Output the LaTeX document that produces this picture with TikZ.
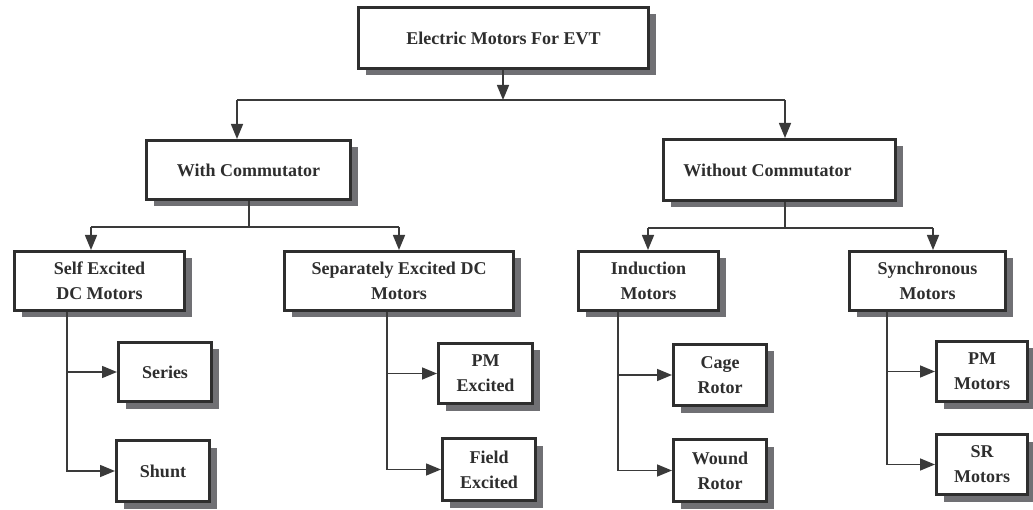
\documentclass[tikz,border=0pt]{standalone}
\usepackage{fontspec}
\setmainfont{Liberation Serif}
\usetikzlibrary{arrows.meta,shadows}
\definecolor{inkc}{HTML}{2E2E2E}
\definecolor{linec}{HTML}{3A3A3A}
\definecolor{shadc}{HTML}{707074}
\begin{document}
\begin{tikzpicture}[x=1pt,y=-1pt,
  box/.style={draw=inkc, line width=3pt, fill=white, rectangle, inner sep=0pt,
    text=inkc, font=\fontsize{18}{25}\selectfont\bfseries, align=center,
    drop shadow={shadow xshift=7pt, shadow yshift=-7pt, opacity=1, fill=shadc, draw=none}},
  conn/.style={draw=linec, line width=1.5pt},
  arr/.style={conn, -{Triangle[length=15pt,width=12pt]}}
]
\useasboundingbox (0,0) rectangle (1033,510);

% level 1
\node[box, minimum width=290pt, minimum height=61pt] (top) at (503.5,38) {Electric Motors For EVT};

% level 2
\node[box, minimum width=204pt, minimum height=59pt] (wc) at (248.5,170) {With Commutator};
\node[box, minimum width=232pt, minimum height=61pt,
  label={[text=inkc, font=\fontsize{18}{25}\selectfont\bfseries, xshift=-12pt]center:Without Commutator}] (woc) at (779.5,170) {};

% level 3
\node[box, minimum width=170pt, minimum height=59pt] (se) at (99.5,281) {Self Excited\\DC Motors};
\node[box, minimum width=229pt, minimum height=59pt] (sep) at (399,281) {Separately Excited DC\\Motors};
\node[box, minimum width=140pt, minimum height=59pt] (ind) at (648.5,281) {Induction\\Motors};
\node[box, minimum width=156pt, minimum height=59pt] (syn) at (927.5,281) {Synchronous\\Motors};

% level 4
\node[box, minimum width=93pt, minimum height=59pt] (series) at (165,372) {Series};
\node[box, minimum width=93pt, minimum height=61pt] (shunt) at (163,471) {Shunt};
\node[box, minimum width=94pt, minimum height=60pt] (pmex) at (485.5,373.5) {PM\\Excited};
\node[box, minimum width=93pt, minimum height=62pt] (fex) at (489,469.5) {Field\\Excited};
\node[box, minimum width=93pt, minimum height=61pt] (cage) at (720,375) {Cage\\Rotor};
\node[box, minimum width=93pt, minimum height=62pt] (wound) at (720,470.5) {Wound\\Rotor};
\node[box, minimum width=91pt, minimum height=60pt] (pmm) at (982,371.5) {PM\\Motors};
\node[box, minimum width=91pt, minimum height=60pt] (sr) at (982,464.5) {SR\\Motors};

% junction coordinates
\coordinate (j1) at (503,100);
\coordinate (j1l) at (237,100);
\coordinate (j1r) at (785,100);
\coordinate (j2) at (249,227);
\coordinate (j2l) at (91,227);
\coordinate (j2r) at (399,227);
\coordinate (j3) at (785,228);
\coordinate (j3l) at (648,228);
\coordinate (j3r) at (933,228);
\coordinate (v1) at (67,0);
\coordinate (v2) at (387,0);
\coordinate (v3) at (618,0);
\coordinate (v4) at (887,0);

% level 1 -> 2
\draw[arr] (top.south -| j1) -- (j1);
\draw[conn] (j1l) -- (j1r);
\draw[arr] (j1l) -- (wc.north -| j1l);
\draw[arr] (j1r) -- (woc.north -| j1r);

% level 2 -> 3
\draw[conn] (wc.south -| j2) -- (j2);
\draw[conn] (j2l) -- (j2r);
\draw[arr] (j2l) -- (se.north -| j2l);
\draw[arr] (j2r) -- (sep.north -| j2r);
\draw[conn] (woc.south -| j3) -- (j3);
\draw[conn] (j3l) -- (j3r);
\draw[arr] (j3l) -- (ind.north -| j3l);
\draw[arr] (j3r) -- (syn.north -| j3r);

% level 3 -> 4
\draw[arr] (se.south -| v1) |- (shunt.west);
\draw[arr] (series.west -| v1) -- (series.west);
\draw[arr] (sep.south -| v2) |- (fex.west);
\draw[arr] (pmex.west -| v2) -- (pmex.west);
\draw[arr] (ind.south -| v3) |- (wound.west);
\draw[arr] (cage.west -| v3) -- (cage.west);
\draw[arr] (syn.south -| v4) |- (sr.west);
\draw[arr] (pmm.west -| v4) -- (pmm.west);
\end{tikzpicture}
\end{document}
